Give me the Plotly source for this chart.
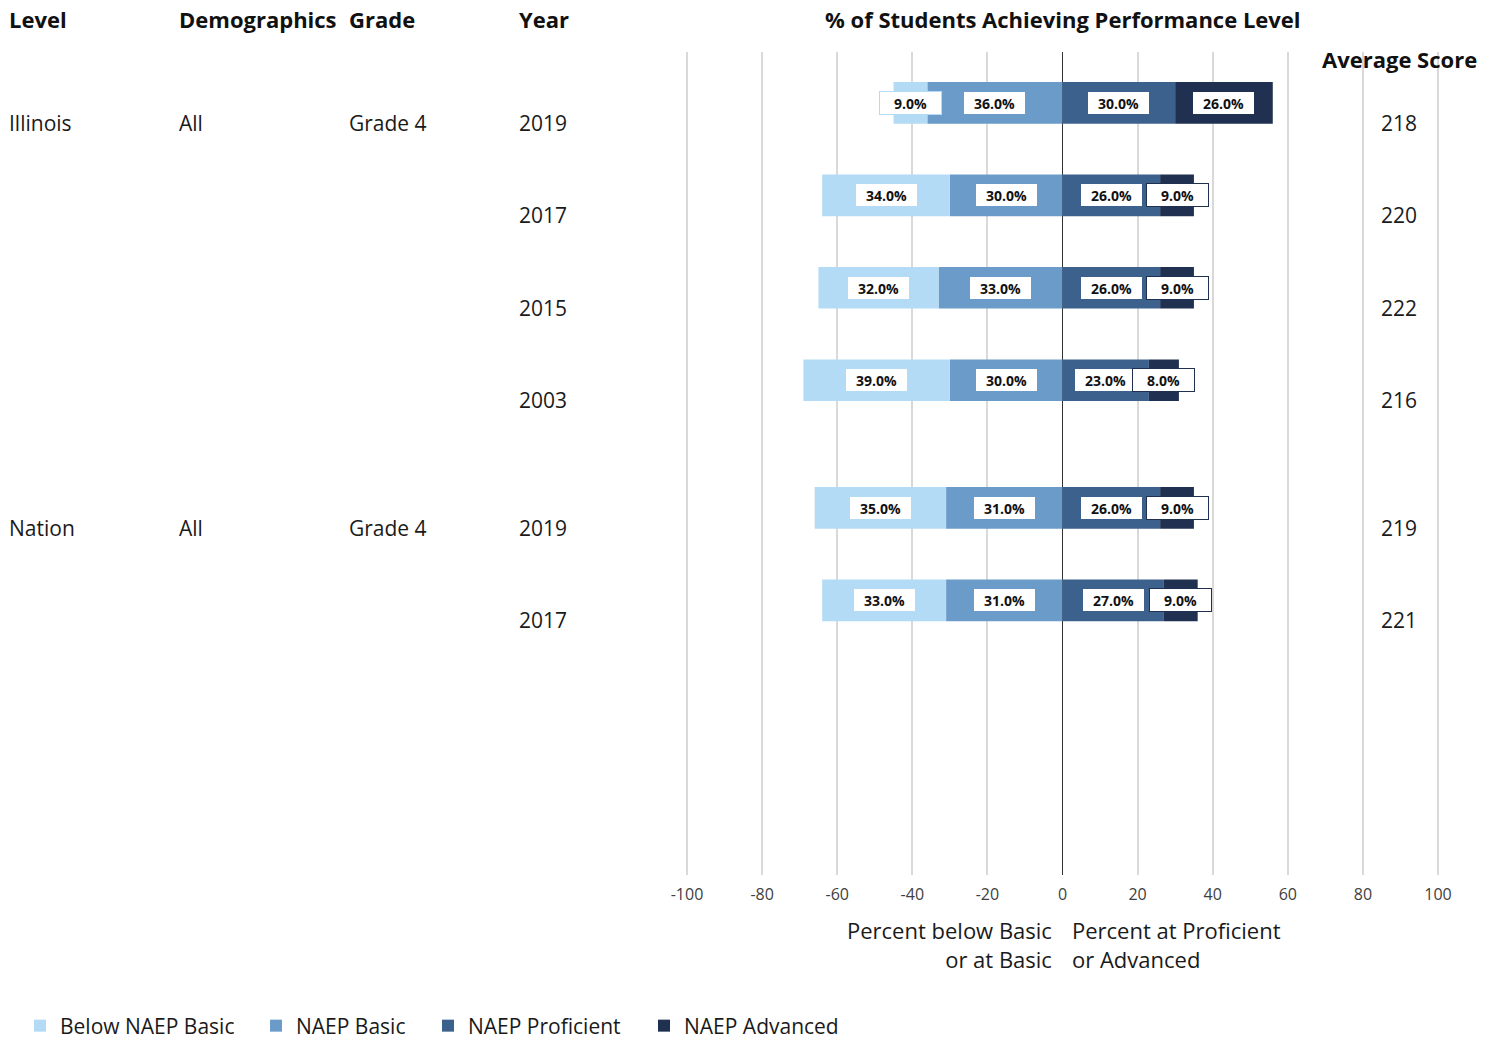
import plotly.graph_objects as go

# ---------------- data ----------------
levels = ["Illinois", "Illinois", "Illinois", "Illinois", "Nation", "Nation"]
demographics = ["All", "All", "All", "All", "All", "All"]
grades = ["Grade 4", "Grade 4", "Grade 4", "Grade 4", "Grade 4", "Grade 4"]
years = ["2019", "2017", "2015", "2003", "2019", "2017"]
below_basic = [9, 34, 32, 39, 35, 33]
basic = [36, 30, 33, 30, 31, 31]
proficient = [30, 26, 26, 23, 26, 27]
advanced = [26, 9, 9, 8, 9, 9]
avg_score = [218, 220, 222, 216, 219, 221]
x_ticks = [-100, -80, -60, -40, -20, 0, 20, 40, 60, 80, 100]

series_names = ["Below NAEP Basic", "NAEP Basic", "NAEP Proficient", "NAEP Advanced"]
colors = ["#b4dbf5", "#6b9bc8", "#3d618d", "#203050"]

# ---------------- layout helpers ----------------
W, H = 1497, 1039
GROUP_GAP = 0.38
rows = []
pos = 0.0
for i, lv in enumerate(levels):
    if i > 0 and lv != levels[i - 1]:
        pos += GROUP_GAP
    rows.append(pos)
    pos += 1

def px_x(px):
    return px / W

def px_y(py):
    return 1 - py / H

FONT = "Open Sans"
TXT = "#1a1a1a"
LEGEND_W = {series_names[0]: 191, series_names[1]: 127, series_names[2]: 171, series_names[3]: 170}

fig = go.Figure()

# negative side: basic nearest zero, then below basic
fig.add_trace(go.Bar(y=rows, x=[-v for v in basic], orientation="h", name=series_names[1],
                     marker=dict(color=colors[1], line=dict(width=0)), width=0.45, legendrank=2,
                     legendwidth=LEGEND_W[series_names[1]], hoverinfo="skip"))
fig.add_trace(go.Bar(y=rows, x=[-v for v in below_basic], orientation="h", name=series_names[0],
                     marker=dict(color=colors[0], line=dict(width=0)), width=0.45, legendrank=1,
                     legendwidth=LEGEND_W[series_names[0]], hoverinfo="skip"))
fig.add_trace(go.Bar(y=rows, x=proficient, orientation="h", name=series_names[2],
                     marker=dict(color=colors[2], line=dict(width=0)), width=0.45, legendrank=3,
                     legendwidth=LEGEND_W[series_names[2]], hoverinfo="skip"))
fig.add_trace(go.Bar(y=rows, x=advanced, orientation="h", name=series_names[3],
                     marker=dict(color=colors[3], line=dict(width=0)), width=0.45, legendrank=4,
                     legendwidth=LEGEND_W[series_names[3]], hoverinfo="skip"))

annotations = []

# value labels centred on each segment
for i, r in enumerate(rows):
    segs = [
        (-(basic[i] + below_basic[i] / 2), below_basic[i], colors[0]),
        (-basic[i] / 2, basic[i], colors[1]),
        (proficient[i] / 2, proficient[i], colors[2]),
        (proficient[i] + advanced[i] / 2, advanced[i], colors[3]),
    ]
    for cx, v, c in segs:
        annotations.append(dict(
            x=cx, y=r, xref="x", yref="y", text=f"<b>{v:.1f}%</b>", showarrow=False,
            font=dict(family=FONT, size=14, color="#111111"),
            bgcolor="white", bordercolor=c, borderwidth=1, borderpad=1,
            width=59, height=20, xanchor="center", yanchor="middle",
        ))

# left table columns and average score
col_x = {"level": 7, "demo": 177, "grade": 347, "year": 517}
for i, r in enumerate(rows):
    first = i == 0 or levels[i] != levels[i - 1]
    items = [("year", years[i])]
    if first:
        items = [("level", levels[i]), ("demo", demographics[i]), ("grade", grades[i])] + items
    for key, txt in items:
        annotations.append(dict(
            x=px_x(col_x[key]), y=r, xref="paper", yref="y", yshift=-20, text=txt,
            showarrow=False, xanchor="left", yanchor="middle",
            font=dict(family=FONT, size=21, color=TXT),
        ))
    annotations.append(dict(
        x=px_x(1399), y=r, xref="paper", yref="y", yshift=-20, text=str(avg_score[i]),
        showarrow=False, xanchor="center", yanchor="middle",
        font=dict(family=FONT, size=21, color=TXT),
    ))

# headers
headers = [("Level", 7, "left"), ("Demographics", 177, "left"), ("Grade", 347, "left"),
           ("Year", 517, "left"), ("% of Students Achieving Performance Level", 1063, "center")]
for txt, x, anc in headers:
    annotations.append(dict(
        x=px_x(x), y=px_y(19), xref="paper", yref="paper", text=f"<b>{txt}</b>",
        showarrow=False, xanchor=anc, yanchor="middle",
        font=dict(family=FONT, size=22, color="#111111"),
    ))
annotations.append(dict(
    x=px_x(1399), y=px_y(59), xref="paper", yref="paper", text="<b>Average Score</b>",
    showarrow=False, xanchor="center", yanchor="middle",
    font=dict(family=FONT, size=22, color="#111111"),
))

# axis side titles
annotations.append(dict(
    x=px_x(1054), y=px_y(944), xref="paper", yref="paper",
    text="Percent below Basic<br>or at Basic", showarrow=False,
    xanchor="right", yanchor="middle", align="right",
    font=dict(family=FONT, size=22, color=TXT),
))
annotations.append(dict(
    x=px_x(1070), y=px_y(944), xref="paper", yref="paper",
    text="Percent at Proficient<br>or Advanced", showarrow=False,
    xanchor="left", yanchor="middle", align="left",
    font=dict(family=FONT, size=22, color=TXT),
))

PAD = 0.4  # small range padding so edge gridlines at +/-100 are drawn
ppu = (1438 - 687) / 200.0
fig.update_layout(
    width=W, height=H,
    margin=dict(l=0, r=0, t=0, b=0, pad=0, autoexpand=False),
    barmode="relative",
    plot_bgcolor="white", paper_bgcolor="white",
    font=dict(family=FONT, color=TXT),
    xaxis=dict(
        domain=[px_x(687 - PAD * ppu), px_x(1438 + PAD * ppu)], range=[-100 - PAD, 100 + PAD],
        tickmode="array", tickvals=x_ticks, ticktext=[str(t) for t in x_ticks],
        showgrid=True, gridcolor="#d9d9d9", gridwidth=2,
        zeroline=True, zerolinecolor="#333333", zerolinewidth=1,
        showline=False, ticks="", ticklabelstandoff=8,
        tickfont=dict(family=FONT, size=16, color="#404040"),
        fixedrange=True,
    ),
    yaxis=dict(
        domain=[px_y(875), px_y(52)], range=[8.35, -0.55],
        showticklabels=False, showgrid=False, zeroline=False, showline=False,
        fixedrange=True,
    ),
    showlegend=True,
    legend=dict(
        orientation="h", x=px_x(20), y=px_y(1026), xanchor="left", yanchor="middle",
        font=dict(family=FONT, size=21, color=TXT), traceorder="normal",
        bgcolor="rgba(0,0,0,0)",
    ),
    annotations=annotations,
)

fig.write_html("out.html", config={"displayModeBar": False},
               post_script="document.body.style.margin='0px';")
